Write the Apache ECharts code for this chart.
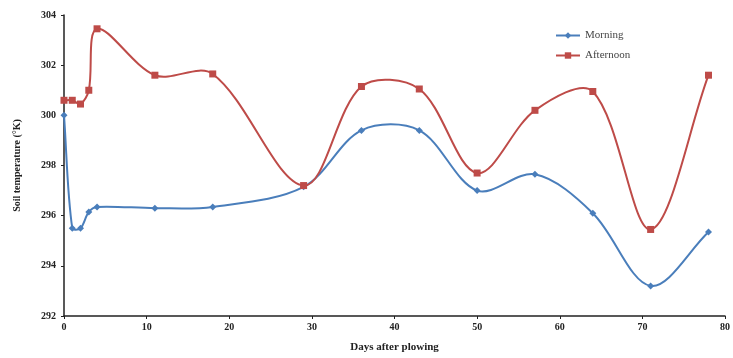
<!DOCTYPE html>
<html>
<head>
<meta charset="utf-8">
<script src="https://cdn.jsdelivr.net/npm/echarts@6/dist/echarts.min.js"></script>
<style>
  html, body { margin: 0; padding: 0; background: #fff; }
  #chart { width: 733px; height: 358px; }
</style>
</head>
<body>
<div id="chart"></div>
<script>
// Sampling days after plowing
const days = [0, 1, 2, 3, 4, 11, 18, 29, 36, 43, 50, 57, 64, 71, 78];
// Soil temperature (K), morning readings
const morning = [300.0, 295.5, 295.5, 296.15, 296.35, 296.3, 296.35, 297.15, 299.4, 299.4, 297.0, 297.65, 296.1, 293.2, 295.35];
// Soil temperature (K), afternoon readings
const afternoon = [300.6, 300.6, 300.45, 301.0, 303.45, 301.6, 301.65, 297.2, 301.15, 301.05, 297.7, 300.2, 300.95, 295.45, 301.6];

const xTicks = { min: 0, max: 80, interval: 10 };
const yTicks = { min: 292, max: 304, interval: 2 };

const BLUE = '#4a7ebb';
const RED = '#be4b48';
const serif = '"Liberation Serif", "DejaVu Serif", serif';

const pairs = (vals) => days.map((d, i) => [d, vals[i]]);

// Smoothed spline segment (Catmull-Rom style, tangents weighted by
// segment length) from point i to point i+1, in pixel space.
function splineSegment(vals) {
  return function (params, api) {
    const i = params.dataIndex;
    const n = days.length;
    if (i >= n - 1) return null;
    const pt = (k) => api.coord([days[Math.max(0, Math.min(n - 1, k))], vals[Math.max(0, Math.min(n - 1, k))]]);
    const p0 = pt(i - 1), p1 = pt(i), p2 = pt(i + 1), p3 = pt(i + 2);
    const dist = (a, b) => Math.hypot(b[0] - a[0], b[1] - a[1]);
    const d0 = dist(p0, p1), d1 = dist(p1, p2), d2 = dist(p2, p3);
    const r1 = d0 + d1 > 0 ? d1 / (d0 + d1) : 0.5;
    const r2 = d1 + d2 > 0 ? d1 / (d1 + d2) : 0.5;
    const t1 = [p2[0] - p0[0], p2[1] - p0[1]];
    const t2 = [p3[0] - p1[0], p3[1] - p1[1]];
    return {
      type: 'bezierCurve',
      shape: {
        x1: p1[0], y1: p1[1],
        cpx1: p1[0] + t1[0] * r1 / 3, cpy1: p1[1] + t1[1] * r1 / 3,
        cpx2: p2[0] - t2[0] * r2 / 3, cpy2: p2[1] - t2[1] * r2 / 3,
        x2: p2[0], y2: p2[1]
      },
      style: { stroke: params.seriesName.indexOf('Morning') === 0 ? BLUE : RED, lineWidth: 2, fill: null }
    };
  };
}

const chart = echarts.init(document.getElementById('chart'));
chart.setOption({
  animation: false,
  backgroundColor: '#ffffff',
  grid: { left: 64, right: 1, top: 15, bottom: 40 },
  legend: {
    left: 550, top: 25, orient: 'vertical', itemGap: 9,
    itemWidth: 24, itemHeight: 8,
    textStyle: { fontFamily: serif, fontSize: 11, color: '#444' },
    data: [
      { name: 'Morning', lineStyle: { color: BLUE, width: 2, opacity: 1 } },
      { name: 'Afternoon', lineStyle: { color: RED, width: 2, opacity: 1 } }
    ]
  },
  xAxis: {
    type: 'value', min: xTicks.min, max: xTicks.max, interval: xTicks.interval,
    name: 'Days after plowing', nameLocation: 'middle', nameGap: 26,
    nameTextStyle: { fontFamily: serif, fontSize: 11, fontWeight: 'bold', color: '#222' },
    axisLine: { show: true, lineStyle: { color: '#222', width: 1.5 } },
    axisTick: { show: true, length: 3, lineStyle: { color: '#222' } },
    axisLabel: { fontFamily: serif, fontSize: 10, fontWeight: 'bold', color: '#222', margin: 6 },
    splitLine: { show: false }
  },
  yAxis: {
    type: 'value', min: yTicks.min, max: yTicks.max, interval: yTicks.interval,
    name: 'Soil temperature (°K)', nameLocation: 'middle', nameGap: 42, nameRotate: 90,
    nameTextStyle: { fontFamily: serif, fontSize: 10, fontWeight: 'bold', color: '#222' },
    axisLine: { show: true, lineStyle: { color: '#222', width: 1.5 } },
    axisTick: { show: true, length: 3, lineStyle: { color: '#222' } },
    axisLabel: { fontFamily: serif, fontSize: 10, fontWeight: 'bold', color: '#222', margin: 8 },
    splitLine: { show: false }
  },
  series: [
    { name: 'Morning curve', type: 'custom', data: pairs(morning), renderItem: splineSegment(morning), silent: true, z: 1 },
    { name: 'Afternoon curve', type: 'custom', data: pairs(afternoon), renderItem: splineSegment(afternoon), silent: true, z: 1 },
    {
      name: 'Morning', type: 'line', data: pairs(morning), z: 3,
      symbol: 'diamond', symbolSize: 7,
      lineStyle: { color: BLUE, width: 0, opacity: 0 },
      itemStyle: { color: BLUE }
    },
    {
      name: 'Afternoon', type: 'line', data: pairs(afternoon), z: 3,
      symbol: 'rect', symbolSize: 7,
      lineStyle: { color: RED, width: 0, opacity: 0 },
      itemStyle: { color: RED }
    }
  ]
});
</script>
</body>
</html>
